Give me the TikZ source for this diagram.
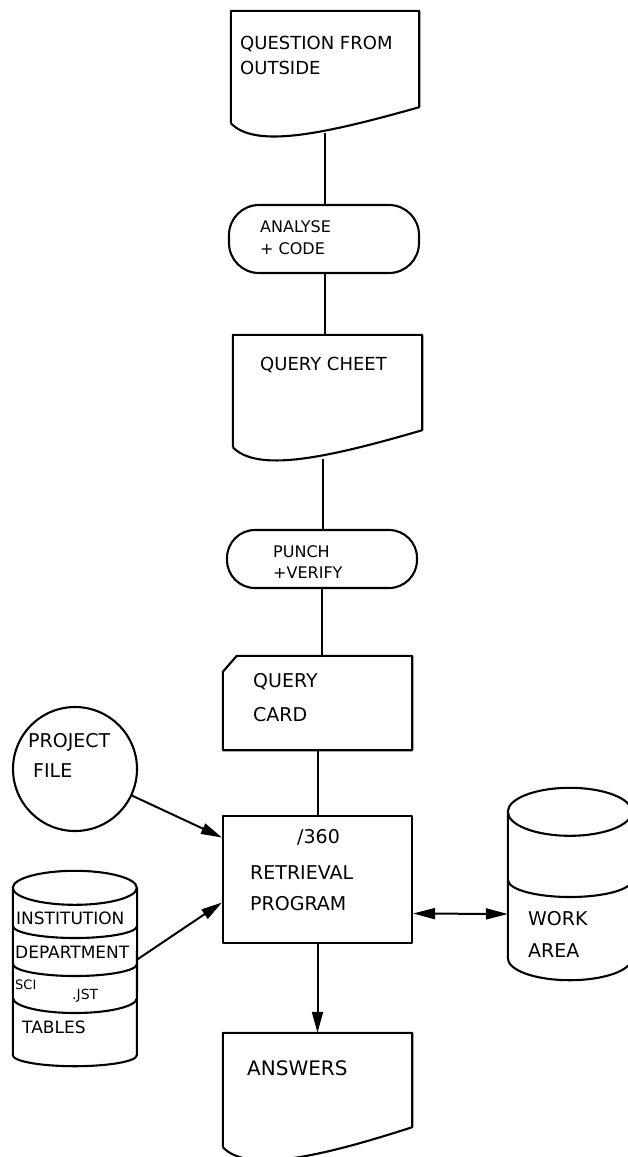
\documentclass[tikz,border=0pt]{standalone}
\usepackage{fontspec}
\setmainfont{DejaVu Sans}
\usetikzlibrary{arrows.meta}

% document symbol with a wavy bottom edge
\newcommand\docshape[2]{%
  \draw[outline] (#1.south west) -- (#1.north west) -- (#1.north east)
    -- ([yshift=#2pt]#1.south east)
    .. controls ([shift={(-99,12)}]#1.south east) and ([shift={(24,25)}]#1.south west) .. (#1.south west);
}
% punched card symbol
\newcommand\cardshape[1]{%
  \draw[outline] ([yshift=-16pt]#1.north west) -- ([xshift=14pt]#1.north west)
    -- (#1.north east) -- (#1.south east) -- (#1.south west) -- cycle;
}

\begin{document}
\begin{tikzpicture}[x=1pt,y=-1pt,
  outline/.style={line width=2.1pt,line join=round},
  box/.style={inner sep=0pt,minimum width=#1pt},
  txt/.style={inner sep=0pt,anchor=north west,align=left},
  link/.style={line width=2pt},
  arr/.style={line width=2pt,-{Triangle[length=21pt,width=11pt]}},
  twoway/.style={line width=2pt,{Triangle[length=22pt,width=11pt]}-{Triangle[length=22pt,width=11pt]}}]
\useasboundingbox (0,0) rectangle (628,1157);

\node[box=188,minimum height=112pt] (quest) at (325,67) {};
\docshape{quest}{16}
\node[txt,font=\fontsize{18}{25}\selectfont] (quest-t) at (240,36) {QUESTION FROM\\OUTSIDE};

\node[box=190,minimum height=68pt,draw,outline,rounded corners=30pt] (an) at (324,239) {};
\node[txt,font=\fontsize{16}{22}\selectfont] (an-t) at (260,220) {ANALYSE\\+ CODE};
\draw[link] ([yshift=-10pt]quest.south) -- (quest.south |- an.north);

\node[box=189,minimum height=112pt] (sheet) at (327.5,391) {};
\docshape{sheet}{17}
\node[txt,font=\fontsize{18}{25}\selectfont] (sheet-t) at (260,357) {QUERY CHEET};
\draw[link] (an.south -| quest.south) -- (quest.south |- sheet.north);

\node[box=190,minimum height=58pt,draw,outline,rounded corners=28pt] (punch) at (322,559) {};
\node[txt,font=\fontsize{16}{21}\selectfont] (punch-t) at (273,545) {PUNCH\\+VERIFY};
\draw[link] ([xshift=-5pt,yshift=-12pt]sheet.south) -- ([xshift=-5pt]sheet.south |- punch.north);

\node[box=189,minimum height=94pt] (card) at (317.5,703) {};
\cardshape{card}
\node[txt,font=\fontsize{19}{34}\selectfont] (card-t) at (253,673) {QUERY\\CARD};
\draw[link] (punch.south) -- (punch.south |- card.north);

\node[box=189,minimum height=127pt,draw,outline] (retr) at (317.5,879.5) {};
\node[txt,font=\fontsize{19}{31}\selectfont] (retr-t) at (250,829) {\hspace*{47pt}/360\\[5pt]RETRIEVAL\\PROGRAM};
\draw[link] (card) -- (retr);

\node[box=189,minimum height=114pt] (ans) at (317.5,1090) {};
\docshape{ans}{20}
\node[txt,font=\fontsize{20}{25}\selectfont] (ans-t) at (247,1060) {ANSWERS};
\draw[arr] (retr) -- (ans);

% project file
\node[circle,draw,outline,minimum size=124pt,inner sep=0pt] (proj) at (75,769) {};
\node[txt,font=\fontsize{19}{30}\selectfont] (proj-t) at (28,733) {PROJECT\\\hspace*{5pt}FILE};
\draw[arr] (proj) -- ([yshift=42pt]retr.west);

% tables
\node[box=124,minimum height=167pt] (tables) at (75,971.5) {};
\draw[outline] (tables.north west) arc[start angle=180,end angle=540,x radius=62pt,y radius=17pt]
  (tables.north west) -- (tables.south west) arc[start angle=180,end angle=360,x radius=62pt,y radius=11pt]
  -- (tables.north east);
\foreach \y/\r in {926/12,964/12,998/15}
  \draw[outline] (13,\y) arc[start angle=180,end angle=360,x radius=62pt,y radius=\r pt];
\node[txt,font=\fontsize{17}{20}\selectfont] (inst) at (16,912) {INSTITUTION};
\node[txt,font=\fontsize{17}{20}\selectfont] (dept) at (15,946) {DEPARTMENT};
\node[txt,font=\fontsize{13}{15}\selectfont] (sci) at (15,980) {SCI};
\node[txt,font=\fontsize{14}{16}\selectfont] (isi) at (72,989) {.JST};
\node[txt,font=\fontsize{17}{20}\selectfont] (tabl) at (22,1021) {TABLES};
\draw[arr] ([yshift=12pt]tables.east) -- ([yshift=-23pt]retr.west);

% work area
\node[box=124,minimum height=146pt] (work) at (570,885) {};
\draw[outline] (work.north west) arc[start angle=180,end angle=540,x radius=62pt,y radius=24pt]
  (work.north west) -- (work.south west) arc[start angle=180,end angle=360,x radius=62pt,y radius=22pt]
  -- (work.north east);
\draw[outline] (508,880) arc[start angle=180,end angle=360,x radius=62pt,y radius=17pt];
\node[txt,font=\fontsize{19}{32}\selectfont] (work-t) at (528,911) {WORK\\AREA};
\draw[twoway] ([yshift=-34pt]retr.east) -- ([yshift=-29pt]work.west);
\end{tikzpicture}
\end{document}
